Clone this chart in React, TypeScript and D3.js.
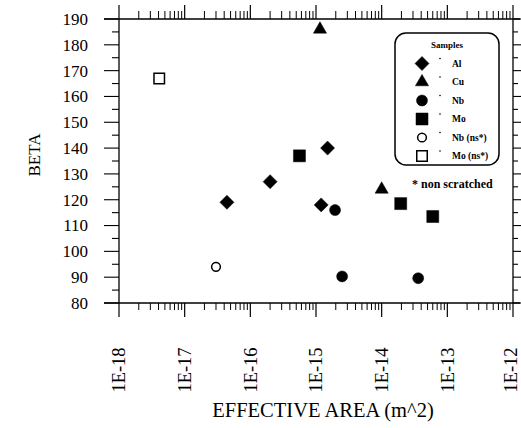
import { useEffect, useRef } from 'react';
import * as d3 from 'd3';

// values: [effective area (m^2), beta]
const alPoints: [number, number][] = [[4.4e-17, 119], [2e-16, 127], [1.2e-15, 118], [1.5e-15, 140]];
const cuPoints: [number, number][] = [[1.15e-15, 186], [1e-14, 124]];
const nbPoints: [number, number][] = [[1.95e-15, 116], [2.5e-15, 90.3], [3.6e-14, 89.6]];
const moPoints: [number, number][] = [[5.6e-16, 137], [1.95e-14, 118.5], [6e-14, 113.5]];
const nbNsPoints: [number, number][] = [[3e-17, 94]];
const moNsPoints: [number, number][] = [[4.1e-18, 167]];

const xDecades = [-18, -17, -16, -15, -14, -13, -12];
const xTickLabels = ['1E-18', '1E-17', '1E-16', '1E-15', '1E-14', '1E-13', '1E-12'];
const yTicks = [80, 90, 100, 110, 120, 130, 140, 150, 160, 170, 180, 190];

const legendLabels = ['Al', 'Cu', 'Nb', 'Mo', 'Nb (ns*)', 'Mo (ns*)'];

const FONT = '"Liberation Serif", "DejaVu Serif", serif';

export default function App() {
  const svgRef = useRef<SVGSVGElement>(null);

  useEffect(() => {
    const svg = d3.select(svgRef.current);
    svg.selectAll('*').remove();

    const left = 119, right = 513, top = 19, bottom = 303;
    const W = 521;

    const x = d3.scaleLog().domain([1e-18, 1e-12]).range([left, right]);
    const y = d3.scaleLinear().domain([80, 190]).range([bottom, top]);

    const g = svg.append('g');
    const line = (x1: number, y1: number, x2: number, y2: number, w = 1.3) =>
      g.append('line')
        .attr('x1', x1).attr('y1', y1).attr('x2', x2).attr('y2', y2)
        .attr('stroke', '#000').attr('stroke-width', w);

    // frame
    line(104, top, 520, top);
    line(104, bottom, 520, bottom);
    line(left, top, left, bottom);
    line(right, top, right, bottom);

    // y ticks (left outward, right outward)
    const yMinor = d3.range(80, 191, 5);
    yMinor.forEach(v => {
      const major = v % 10 === 0;
      line(left - (major ? 15 : 7), y(v), left, y(v), 1.1);
      line(right, y(v), right + (major ? 8 : 5), y(v), 1.1);
    });

    // log x ticks (bottom down, top up)
    xDecades.forEach((d, i) => {
      const base = Math.pow(10, d);
      const px = x(base);
      line(px, bottom, px, bottom + 14, 1.2);
      line(px, top, px, top - 14, 1.2);
      if (i < xDecades.length - 1) {
        for (let m = 2; m <= 9; m++) {
          const mx = x(base * m);
          line(mx, bottom, mx, bottom + 7, 1);
          line(mx, top, mx, top - 8, 1);
        }
      }
    });

    // tick labels
    g.selectAll('.ylab')
      .data(yTicks)
      .join('text')
      .attr('x', 88)
      .attr('y', d => y(d))
      .attr('dy', '0.35em')
      .attr('text-anchor', 'end')
      .style('font-family', FONT)
      .style('font-size', '17px')
      .text(d => d);

    g.selectAll('.xlab')
      .data(xDecades)
      .join('text')
      .attr('transform', (d) => `translate(${Math.min(x(Math.pow(10, d)), W - 10)},370) rotate(-90)`)
      .attr('dy', '0.35em')
      .attr('text-anchor', 'middle')
      .style('font-family', FONT)
      .style('font-size', '18.5px')
      .text((d, i) => xTickLabels[i]);

    // axis titles
    g.append('text')
      .attr('transform', 'translate(40,155) rotate(-90)')
      .attr('text-anchor', 'middle')
      .style('font-family', FONT)
      .style('font-size', '17px')
      .text('BETA');

    g.append('text')
      .attr('x', 323)
      .attr('y', 417)
      .attr('text-anchor', 'middle')
      .style('font-family', FONT)
      .style('font-size', '20.5px')
      .text('EFFECTIVE AREA (m^2)');

    // markers
    const diamond = d3.symbol().type(d3.symbolSquare).size(98)();
    const square = d3.symbol().type(d3.symbolSquare).size(144)();
    const circle = d3.symbol().type(d3.symbolCircle).size(95)();
    const triangle = d3.symbol().type(d3.symbolTriangle).size(75)();
    const openCircle = d3.symbol().type(d3.symbolCircle).size(60)();
    const openSquare = d3.symbol().type(d3.symbolSquare).size(110)();

    const series = [
      { pts: alPoints, path: diamond, rot: 45, fill: '#000' },
      { pts: cuPoints, path: triangle, rot: 0, fill: '#000' },
      { pts: nbPoints, path: circle, rot: 0, fill: '#000' },
      { pts: moPoints, path: square, rot: 0, fill: '#000' },
      { pts: nbNsPoints, path: openCircle, rot: 0, fill: '#fff' },
      { pts: moNsPoints, path: openSquare, rot: 0, fill: '#fff' },
    ];

    series.forEach(s => {
      g.append('g')
        .selectAll('path')
        .data(s.pts)
        .join('path')
        .attr('d', s.path)
        .attr('transform', d => `translate(${x(d[0])},${y(d[1])}) rotate(${s.rot})`)
        .attr('fill', s.fill)
        .attr('stroke', '#000')
        .attr('stroke-width', s.fill === '#fff' ? 1.5 : 0.5);
    });

    // legend
    const legend = g.append('g');
    legend.append('rect')
      .attr('x', 395).attr('y', 33)
      .attr('width', 104).attr('height', 132)
      .attr('rx', 11)
      .attr('fill', '#fff')
      .attr('stroke', '#000')
      .attr('stroke-width', 1.5);

    legend.append('text')
      .attr('x', 447).attr('y', 48)
      .attr('text-anchor', 'middle')
      .style('font-family', FONT)
      .style('font-size', '9px')
      .style('font-weight', 'bold')
      .text('Samples');

    const rowY = d3.scaleLinear().domain([0, 5]).range([63.5, 156]);
    series.forEach((s, i) => {
      const ry = rowY(i);
      legend.append('path')
        .attr('d', s.path)
        .attr('transform', `translate(422,${ry}) rotate(${s.rot})`)
        .attr('fill', s.fill)
        .attr('stroke', '#000')
        .attr('stroke-width', s.fill === '#fff' ? 1.5 : 0.5);
      legend.append('circle')
        .attr('cx', 440).attr('cy', ry - 5)
        .attr('r', 0.8)
        .attr('fill', '#000');
      legend.append('text')
        .attr('x', 452).attr('y', ry + 3)
        .style('font-family', FONT)
        .style('font-size', '9.5px')
        .style('font-weight', 'bold')
        .text(legendLabels[i]);
    });

    g.append('text')
      .attr('x', 412).attr('y', 188)
      .style('font-family', FONT)
      .style('font-size', '12px')
      .style('font-weight', 'bold')
      .text('* non scratched');
  }, []);

  return (
    <svg
      ref={svgRef}
      width={521}
      height={428}
      style={{ position: 'absolute', left: 0, top: 0, background: '#fff' }}
    />
  );
}
